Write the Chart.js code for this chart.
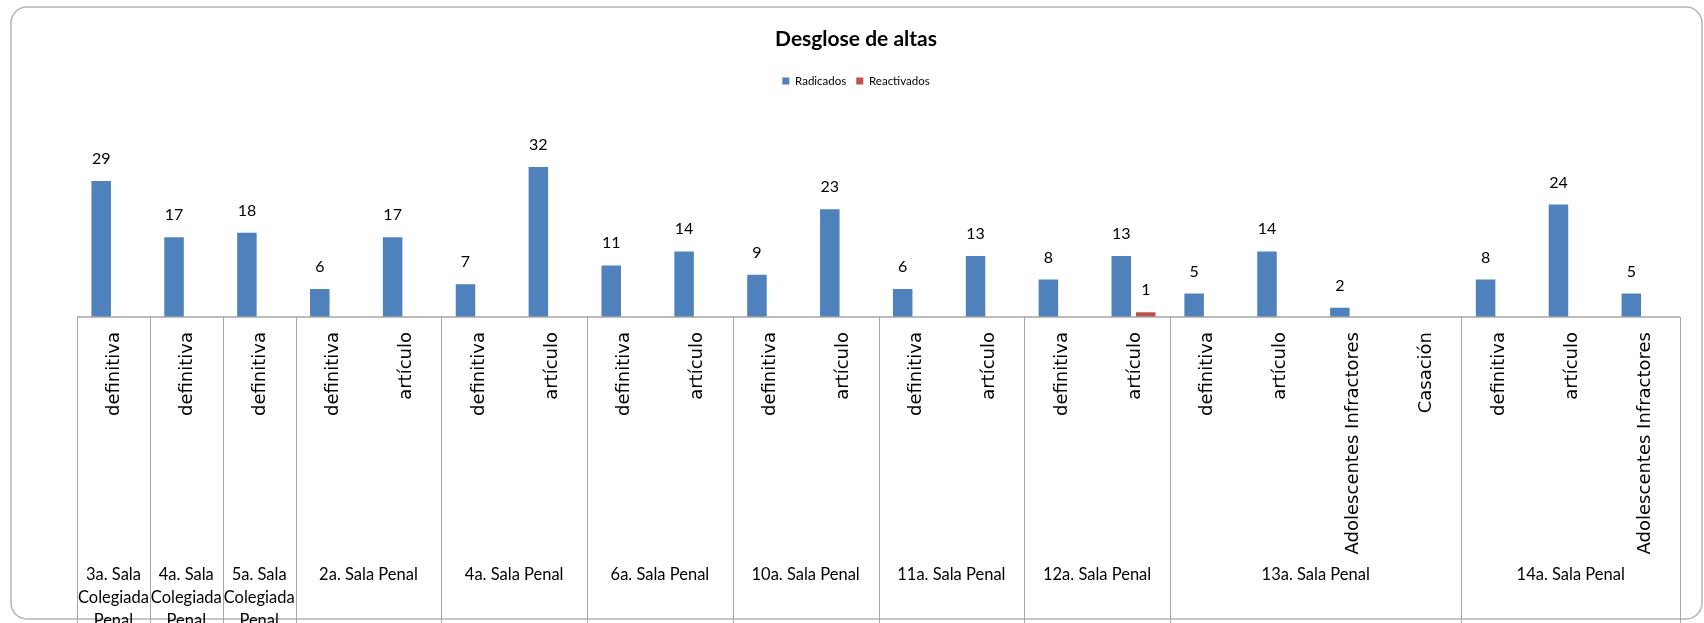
<!DOCTYPE html>
<html>
<head>
<meta charset="utf-8">
<script src="https://cdn.jsdelivr.net/npm/chart.js@4.4.1/dist/chart.umd.min.js"></script>
<style>
  html, body { margin: 0; padding: 0; background: #fff; }
  canvas { display: block; }
</style>
</head>
<body>
<canvas id="chart" width="1704" height="623"></canvas>
<script>
// groups along the bottom row and how many sub categories each one holds
var groups = ["3a. Sala Colegiada Penal", "4a. Sala Colegiada Penal", "5a. Sala Colegiada Penal",
    "2a. Sala Penal", "4a. Sala Penal", "6a. Sala Penal", "10a. Sala Penal", "11a. Sala Penal",
    "12a. Sala Penal", "13a. Sala Penal", "14a. Sala Penal"];
var group_sizes = [1, 1, 1, 2, 2, 2, 2, 2, 2, 4, 3];
var subcategories = ["definitiva", "definitiva", "definitiva",
    "definitiva", "artículo", "definitiva", "artículo", "definitiva", "artículo",
    "definitiva", "artículo", "definitiva", "artículo", "definitiva", "artículo",
    "definitiva", "artículo", "Adolescentes Infractores", "Casación",
    "definitiva", "artículo", "Adolescentes Infractores"];
var radicados = [29, 17, 18, 6, 17, 7, 32, 11, 14, 9, 23, 6, 13, 8, 13, 5, 14, 2, null, 8, 24, 5];
var reactivados = [null, null, null, null, null, null, null, null, null, null, null, null, null, null, 1,
    null, null, null, null, null, null, null];

var FONT = "Lato, 'Liberation Sans', sans-serif";

function wrapText(ctx, text, max_width) {
    var words = text.split(" ");
    var lines = [];
    var line = "";
    for (var i = 0; i < words.length; i++) {
        var test = line ? line + " " + words[i] : words[i];
        if (line && ctx.measureText(test).width > max_width) {
            lines.push(line);
            line = words[i];
        } else {
            line = test;
        }
    }
    if (line) lines.push(line);
    return lines;
}

var excelAxis = {
    id: "excelAxis",
    beforeDraw: function (chart) {
        var ctx = chart.ctx;
        ctx.save();
        ctx.fillStyle = "#ffffff";
        ctx.fillRect(0, 0, chart.width, chart.height);
        // rounded chart border
        var x = 11, y = 7, w = 1691, h = 612, r = 16;
        ctx.beginPath();
        ctx.moveTo(x + r, y);
        ctx.lineTo(x + w - r, y);
        ctx.arcTo(x + w, y, x + w, y + r, r);
        ctx.lineTo(x + w, y + h - r);
        ctx.arcTo(x + w, y + h, x + w - r, y + h, r);
        ctx.lineTo(x + r, y + h);
        ctx.arcTo(x, y + h, x, y + h - r, r);
        ctx.lineTo(x, y + r);
        ctx.arcTo(x, y, x + r, y, r);
        ctx.closePath();
        ctx.strokeStyle = "#b4b4b4";
        ctx.lineWidth = 1.5;
        ctx.stroke();
        ctx.restore();
    },
    afterDatasetsDraw: function (chart) {
        var ctx = chart.ctx;
        var area = chart.chartArea;
        var xs = chart.scales.x;
        var step = xs.getPixelForValue(1) - xs.getPixelForValue(0);
        ctx.save();

        // value labels
        ctx.fillStyle = "#000000";
        ctx.font = "16px " + FONT;
        ctx.textAlign = "center";
        ctx.textBaseline = "alphabetic";
        chart.data.datasets.forEach(function (ds, di) {
            var meta = chart.getDatasetMeta(di);
            meta.data.forEach(function (bar, i) {
                if (ds.data[i] === null) return;
                ctx.fillText(String(ds.data[i]), bar.x, bar.y - 17);
            });
        });

        // axis line
        ctx.strokeStyle = "#a6a6a6";
        ctx.lineWidth = 1.5;
        ctx.beginPath();
        ctx.moveTo(area.left, area.bottom);
        ctx.lineTo(area.right, area.bottom);
        ctx.stroke();

        // group separators and group labels
        ctx.lineWidth = 1;
        var idx = 0;
        var edges = [];
        for (var g = 0; g < groups.length; g++) {
            var left = xs.getPixelForValue(idx) - step / 2;
            var right = xs.getPixelForValue(idx + group_sizes[g] - 1) + step / 2;
            edges.push(left);
            if (g === groups.length - 1) edges.push(right);
            ctx.font = "17px " + FONT;
            ctx.fillStyle = "#000000";
            ctx.textAlign = "center";
            ctx.textBaseline = "middle";
            var lines = wrapText(ctx, groups[g], (right - left - 2) / 0.97);
            for (var l = 0; l < lines.length; l++) {
                var tw = ctx.measureText(lines[l]).width * 0.97;
                ctx.fillText(lines[l], (left + right) / 2, 575 + l * 23, Math.min(tw, right - left - 2));
            }
            idx += group_sizes[g];
        }
        edges.forEach(function (ex) {
            ctx.beginPath();
            ctx.moveTo(Math.round(ex) + 0.5, area.bottom);
            ctx.lineTo(Math.round(ex) + 0.5, chart.height);
            ctx.stroke();
        });

        // rotated sub category labels
        ctx.font = "18px 'DejaVu Sans', sans-serif";
        ctx.textAlign = "right";
        ctx.textBaseline = "alphabetic";
        for (var i = 0; i < subcategories.length; i++) {
            ctx.save();
            ctx.translate(xs.getPixelForValue(i) + 6, area.bottom + 15);
            ctx.rotate(-Math.PI / 2);
            ctx.fillText(subcategories[i], 0, 0);
            ctx.restore();
        }
        ctx.restore();
    }
};

var chart = new Chart(document.getElementById("chart"), {
    type: "bar",
    data: {
        labels: subcategories,
        datasets: [
            {
                label: "Radicados",
                data: radicados,
                backgroundColor: "#4f81bd",
                categoryPercentage: 0.6725,
                barPercentage: 0.796
            },
            {
                label: "Reactivados",
                data: reactivados,
                backgroundColor: "#c0504d",
                categoryPercentage: 0.6725,
                barPercentage: 0.796
            }
        ]
    },
    options: {
        responsive: false,
        animation: false,
        devicePixelRatio: 1,
        layout: {
            padding: {left: 32, right: 24, top: 8, bottom: 306}
        },
        plugins: {
            title: {
                display: true,
                text: "Desglose de altas",
                color: "#000000",
                font: {family: FONT, size: 21, weight: "bold"},
                padding: {top: 19, bottom: 13}
            },
            legend: {
                display: true,
                labels: {
                    color: "#000000",
                    boxWidth: 7,
                    boxHeight: 7,
                    padding: 10,
                    font: {family: FONT, size: 11.5}
                }
            },
            tooltip: {enabled: false}
        },
        scales: {
            x: {display: false},
            y: {
                display: true,
                min: 0,
                max: 47,
                ticks: {display: false},
                grid: {display: false},
                border: {display: false},
                afterFit: function (scale) {
                    scale.width = 45;
                }
            }
        }
    },
    plugins: [excelAxis]
});
</script>
</body>
</html>
